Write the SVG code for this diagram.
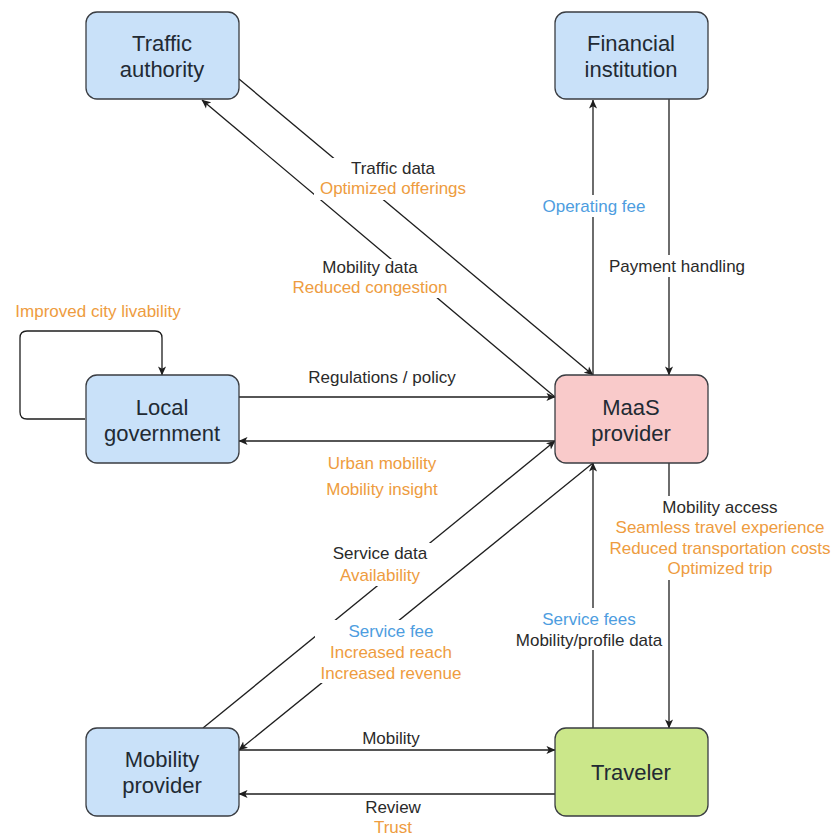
<svg xmlns="http://www.w3.org/2000/svg" width="834" height="836" viewBox="0 0 834 836">
<style>
.node rect{stroke:#3a3d42;stroke-width:1.3}
.blue rect{fill:#c9e1f9}
.pink rect{fill:#f9caca}
.green rect{fill:#cbe78a}
.ntext{font-family:"Liberation Sans",Arial,sans-serif;font-size:22px;fill:#222a33;text-anchor:middle;dominant-baseline:central}
.edge{fill:none;stroke:#1e1e1e;stroke-width:1.3}
.arr{marker-end:url(#ah)}
.lbl{font-family:"Liberation Sans",Arial,sans-serif;font-size:17px;text-anchor:middle;dominant-baseline:central}
.k{fill:#2a2a2a}
.o{fill:#ee9c40}
.b{fill:#4d9de0}
.bg{fill:#ffffff}
</style>
<defs>
<marker id="ah" viewBox="0 0 10 10" refX="9.5" refY="5" markerWidth="9" markerHeight="9" markerUnits="userSpaceOnUse" orient="auto">
<path d="M0,0.5 L10,5 L0,9.5 L2.5,5 Z" fill="#1e1e1e"/>
</marker>
</defs>
<rect width="834" height="836" fill="#ffffff"/>

<g id="connectors">
<path class="edge arr" d="M239,79 L593,375"/>
<path class="edge arr" d="M555,397 L202,100"/>
<path class="edge arr" d="M593,375 L593,100"/>
<path class="edge arr" d="M669,99 L669,375"/>
<path class="edge arr" d="M85,419 L27,419 Q20,419 20,412 L20,338 Q20,331 27,331 L155,331 Q162,331 162,338 L162,375"/>
<path class="edge arr" d="M239,397 L555,397"/>
<path class="edge arr" d="M555,441 L239,441"/>
<path class="edge arr" d="M203,728 L555,441"/>
<path class="edge arr" d="M593,463 L239,750"/>
<path class="edge arr" d="M239,750 L555,750"/>
<path class="edge arr" d="M555,794 L239,794"/>
<path class="edge arr" d="M593,728 L593,463"/>
<path class="edge arr" d="M669,463 L669,728"/>

<g id="labels">
<rect class="bg" x="314" y="158" width="158" height="42"/>
<text class="lbl k" x="393" y="168">Traffic data</text>
<text class="lbl o" x="393" y="188">Optimized offerings</text>

<rect class="bg" x="288" y="259" width="161" height="39"/>
<text class="lbl k" x="370" y="267">Mobility data</text>
<text class="lbl o" x="370" y="287">Reduced congestion</text>

<rect class="bg" x="539" y="195" width="110" height="22"/>
<text class="lbl b" x="594" y="206">Operating fee</text>

<rect class="bg" x="604" y="255" width="146" height="22"/>
<text class="lbl k" x="677" y="266">Payment handling</text>

<text class="lbl o" x="98" y="311">Improved city livability</text>

<text class="lbl k" x="382" y="377">Regulations / policy</text>
<text class="lbl o" x="382" y="463">Urban mobility</text>
<text class="lbl o" x="382" y="489">Mobility insight</text>

<rect class="bg" x="329" y="543" width="102" height="43"/>
<text class="lbl k" x="380" y="553">Service data</text>
<text class="lbl o" x="380" y="575">Availability</text>

<rect class="bg" x="315" y="620" width="152" height="63"/>
<text class="lbl b" x="391" y="631">Service fee</text>
<text class="lbl o" x="391" y="652">Increased reach</text>
<text class="lbl o" x="391" y="673">Increased revenue</text>

<rect class="bg" x="511" y="608" width="156" height="42"/>
<text class="lbl b" x="589" y="619">Service fees</text>
<text class="lbl k" x="589" y="640">Mobility/profile data</text>

<rect class="bg" x="604" y="496" width="230" height="84"/>
<text class="lbl k" x="720" y="507">Mobility access</text>
<text class="lbl o" x="720" y="527">Seamless travel experience</text>
<text class="lbl o" x="720" y="548">Reduced transportation costs</text>
<text class="lbl o" x="720" y="568">Optimized trip</text>

<text class="lbl k" x="391" y="738">Mobility</text>
<text class="lbl k" x="393" y="807">Review</text>
<text class="lbl o" x="393" y="827">Trust</text>
</g>
</g>

<g id="traffic-authority" class="node blue">
<rect x="86" y="12" width="153" height="87" rx="11"/>
<text class="ntext" x="162" y="43">Traffic</text>
<text class="ntext" x="162" y="69">authority</text>
</g>
<g id="financial-institution" class="node blue">
<rect x="555" y="12" width="153" height="87" rx="11"/>
<text class="ntext" x="631" y="43">Financial</text>
<text class="ntext" x="631" y="69">institution</text>
</g>
<g id="local-government" class="node blue">
<rect x="86" y="375" width="153" height="88" rx="11"/>
<text class="ntext" x="162" y="407">Local</text>
<text class="ntext" x="162" y="433">government</text>
</g>
<g id="maas-provider" class="node pink">
<rect x="555" y="375" width="153" height="88" rx="11"/>
<text class="ntext" x="631" y="407">MaaS</text>
<text class="ntext" x="631" y="433">provider</text>
</g>
<g id="mobility-provider" class="node blue">
<rect x="86" y="728" width="153" height="88" rx="11"/>
<text class="ntext" x="162" y="759">Mobility</text>
<text class="ntext" x="162" y="785">provider</text>
</g>
<g id="traveler" class="node green">
<rect x="555" y="728" width="153" height="88" rx="11"/>
<text class="ntext" x="631" y="772">Traveler</text>
</g>
</svg>
